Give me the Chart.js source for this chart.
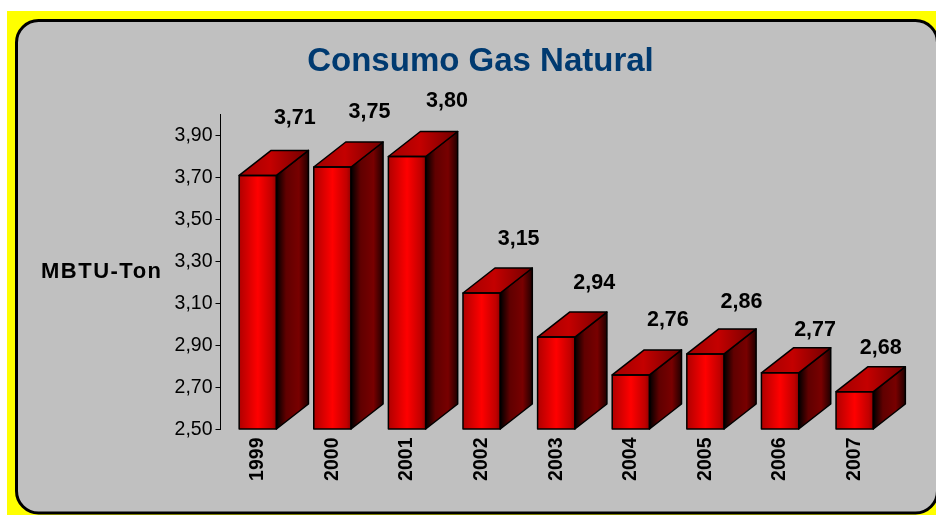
<!DOCTYPE html>
<html>
<head>
<meta charset="utf-8">
<style>html,body{margin:0;padding:0;background:#fff;overflow:hidden}canvas{display:block}</style>
<script src="https://cdn.jsdelivr.net/npm/chart.js@4"></script>
</head>
<body>
<canvas id="c" width="936" height="515"></canvas>
<script>
const categories = ["1999","2000","2001","2002","2003","2004","2005","2006","2007"];
const values = [3.71,3.75,3.80,3.15,2.94,2.76,2.86,2.77,2.68];
const tickValues = [2.5,2.7,2.9,3.1,3.3,3.5,3.7,3.9];
const chartTitle = "Consumo Gas Natural";
const yTitle = "MBTU-Ton";

const FONT = '"Liberation Sans", Arial, sans-serif';
const DEPTH_X = 32, DEPTH_Y = 25;
// label placement relative to each bar's top, as in the reference
const labelDX = [37,37,40,37,38,37,36,35,26];
const labelDY = [-57,-55,-55.5,-54,-54,-55,-52,-43,-44];
const fmt = v => v.toFixed(2).replace('.', ',');

function hGrad(ctx, x0, x1, stops) {
  const g = ctx.createLinearGradient(x0, 0, x1, 0);
  stops.forEach(([p, c]) => g.addColorStop(p, c));
  return g;
}
const FRONT = [[0,'#b00000'],[0.5,'#ff0000'],[0.88,'#c00000'],[1,'#900000']];
const SIDE = [[0,'#000000'],[0.3,'#600000'],[0.7,'#780000'],[1,'#200000']];
const TOP = [[0,'#a00000'],[0.45,'#c40000'],[1,'#700000']];

const panelPlugin = {
  id: 'panel',
  beforeDraw(chart) {
    const c = chart.ctx;
    c.save();
    c.fillStyle = '#ffffff'; c.fillRect(0, 0, 936, 515);
    c.fillStyle = '#ffff00'; c.fillRect(7, 11, 929, 504);
    c.beginPath(); c.roundRect(16.5, 20.5, 921, 492.5, 22);
    c.fillStyle = '#c0c0c0'; c.fill();
    c.lineWidth = 3; c.strokeStyle = '#000000'; c.stroke();
    c.restore();
  }
};

const bar3dPlugin = {
  id: 'bar3d',
  afterDatasetsDraw(chart) {
    const c = chart.ctx;
    const meta = chart.getDatasetMeta(0);
    c.save();
    c.lineWidth = 1.5; c.strokeStyle = '#000000'; c.lineJoin = 'round';
    meta.data.forEach((el, i) => {
      const p = el.getProps(['x','y','base','width'], true);
      const l = p.x - p.width/2, r = p.x + p.width/2, t = p.y, b = p.base;
      // side
      c.beginPath();
      c.moveTo(r, t); c.lineTo(r+DEPTH_X, t-DEPTH_Y); c.lineTo(r+DEPTH_X, b-DEPTH_Y); c.lineTo(r, b); c.closePath();
      c.fillStyle = hGrad(c, r, r+DEPTH_X, SIDE); c.fill(); c.stroke();
      // top
      c.beginPath();
      c.moveTo(l, t); c.lineTo(l+DEPTH_X, t-DEPTH_Y); c.lineTo(r+DEPTH_X, t-DEPTH_Y); c.lineTo(r, t); c.closePath();
      c.fillStyle = hGrad(c, l, r+DEPTH_X, TOP); c.fill(); c.stroke();
      // front outline
      c.strokeRect(l, t, p.width, b - t);
      // value label
      c.fillStyle = '#000000';
      c.font = 'bold 21.5px ' + FONT;
      c.textAlign = 'center'; c.textBaseline = 'middle';
      c.fillText(fmt(values[i]), p.x + labelDX[i], t + labelDY[i]);
    });
    // vertical axis caption
    c.fillStyle = '#000000';
    c.font = 'bold 22px ' + FONT;
    c.letterSpacing = '1.5px';
    c.textAlign = 'left'; c.textBaseline = 'middle';
    c.fillText(yTitle, 41, 272);
    c.letterSpacing = '0px';
    c.restore();
  }
};

new Chart(document.getElementById('c'), {
  type: 'bar',
  data: {
    labels: categories,
    datasets: [{
      data: values,
      base: 2.5,
      barPercentage: 0.5,
      categoryPercentage: 1,
      borderWidth: 0,
      backgroundColor(ctx) {
        const sc = ctx.chart.scales.x;
        if (!sc || ctx.dataIndex === undefined) return '#ff0000';
        const x = sc.getPixelForValue(ctx.dataIndex);
        if (!Number.isFinite(x)) return '#ff0000';
        return hGrad(ctx.chart.ctx, x - 18.7, x + 18.7, FRONT);
      }
    }]
  },
  plugins: [panelPlugin, bar3dPlugin],
  options: {
    responsive: false,
    animation: false,
    events: [],
    layout: { padding: { left: 69, right: 44, top: 42, bottom: 0 } },
    plugins: {
      legend: { display: false },
      tooltip: { enabled: false },
      title: {
        display: true,
        text: chartTitle,
        color: '#003a70',
        font: { family: FONT, size: 33, weight: 'bold', lineHeight: 1.2 },
        padding: { top: 0, bottom: 32.9 }
      }
    },
    scales: {
      x: {
        afterFit(s) { s.height = 85.5; },
        border: { display: false },
        grid: { display: false },
        ticks: {
          color: '#000000',
          font: { family: FONT, size: 19.5, weight: 'bold' },
          minRotation: 90, maxRotation: 90,
          autoSkip: false,
          padding: 0
        }
      },
      y: {
        min: 2.5,
        max: 4.0,
        afterFit(s) { s.width = 151.5; },
        afterBuildTicks(s) { s.ticks = tickValues.map(v => ({ value: v })); },
        border: { display: true, color: '#000000', width: 1 },
        grid: { drawOnChartArea: false, drawTicks: true, tickLength: 5, color: '#000000' },
        ticks: {
          color: '#000000',
          font: { family: FONT, size: 19.5 },
          padding: 3,
          callback: v => fmt(v)
        }
      }
    }
  }
});
</script>
</body>
</html>
